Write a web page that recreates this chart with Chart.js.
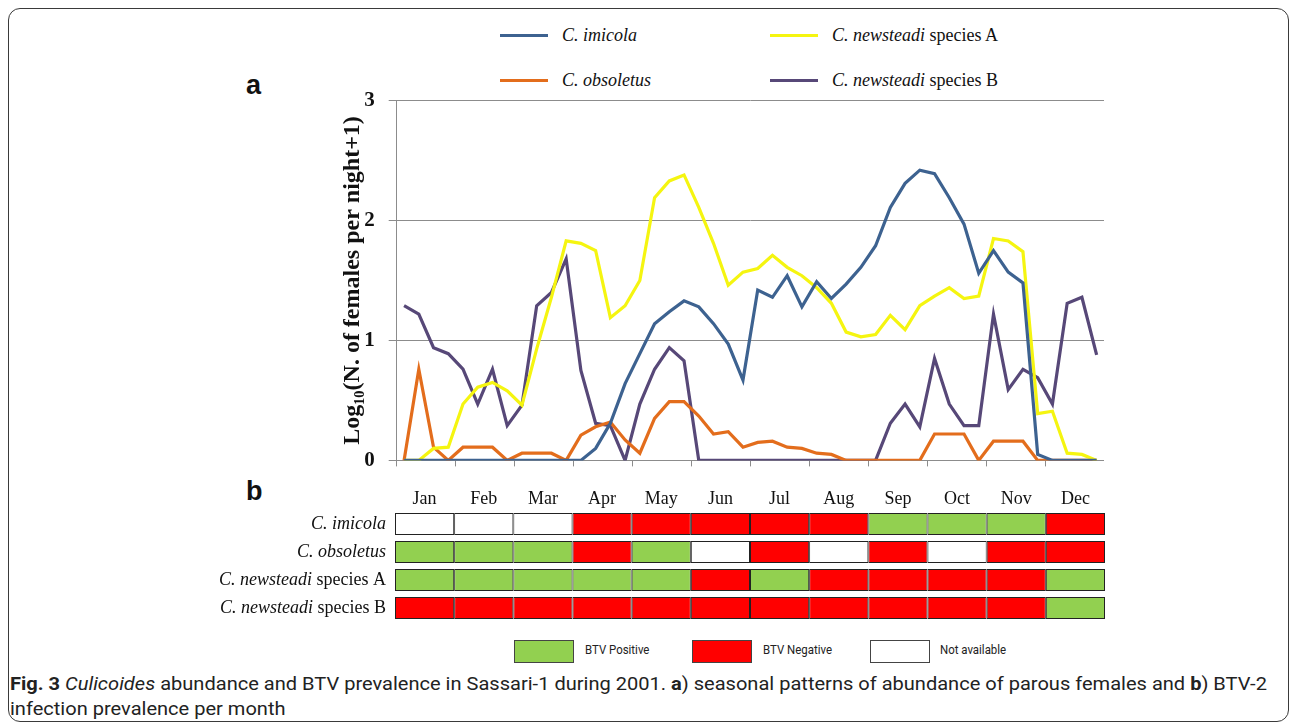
<!DOCTYPE html>
<html>
<head>
<meta charset="utf-8">
<script src="https://cdn.jsdelivr.net/npm/chart.js@4.4.1/dist/chart.umd.min.js"></script>
<style>
  body { margin: 0; width: 1290px; height: 726px; overflow: hidden; position: relative; background: #fff; font-family: "Liberation Serif", serif; color: #111; }
  #frame { position: absolute; left: 8px; top: 8px; width: 1279px; height: 712px; border: 1.5px solid #3a3a3a; border-radius: 12px; }
  .panel { position: absolute; font-family: "Liberation Sans", Arial, sans-serif; font-weight: bold; font-size: 27px; color: #111; }
  #lineWrap { position: absolute; left: 330px; top: 74px; width: 774px; height: 413px; }
  #tableWrap { position: absolute; left: 220px; top: 472px; width: 885px; height: 150px; }
  .leg { position: absolute; font-size: 18px; white-space: nowrap; line-height: 20px; }
  .leg i.sw { position: absolute; left: -62px; top: 9px; width: 48px; height: 3px; }
  .box { position: absolute; top: 640px; width: 58px; height: 21px; border: 1.5px solid #444; }
  .boxt { position: absolute; top: 642px; font-family: "Roboto", sans-serif; font-size: 13px; color: #222; transform: scaleX(0.88); transform-origin: left; white-space: nowrap; }
  #caption { position: absolute; left: 10px; top: 671px; width: 1275px; font-family: "Roboto", sans-serif; font-size: 19px; line-height: 25px; color: #222; white-space: nowrap; transform: scaleX(1.055); transform-origin: left; }
</style>
</head>
<body>
<div id="frame"></div>
<div class="panel" style="left:246px;top:70px;">a</div>
<div class="panel" style="left:246px;top:476px;">b</div>
<div id="legend"></div>
<div id="lineWrap"><canvas id="lineChart"></canvas></div>
<div id="tableWrap"><canvas id="tableChart"></canvas></div>
<div class="box" style="left:514px;background:#92d050;"></div>
<div class="boxt" style="left:585px;">BTV Positive</div>
<div class="box" style="left:692px;background:#ff0000;"></div>
<div class="boxt" style="left:763px;">BTV Negative</div>
<div class="box" style="left:870px;background:#fff;"></div>
<div class="boxt" style="left:940px;">Not available</div>
<div id="caption"><b>Fig. 3</b> <i>Culicoides</i> abundance and BTV prevalence in Sassari-1 during 2001. <b>a</b>) seasonal patterns of abundance of parous females and <b>b</b>) BTV-2<br>infection prevalence per month</div>
<script>
// months and weekly sampling points (4 per month)
const months = ['Jan', 'Feb', 'Mar', 'Apr', 'May', 'Jun', 'Jul', 'Aug', 'Sep', 'Oct', 'Nov', 'Dec'];
const weeks = [];
months.forEach(m => { for (let w = 1; w <= 4; w++) weeks.push(m + ' ' + w); });

// log10(N. of females per night + 1)
const imicola = [0, 0, 0, 0, 0, 0, 0, 0, 0, 0, 0, 0,
  0, 0.1, 0.31, 0.64, 0.89, 1.14, 1.24, 1.33, 1.28, 1.14, 0.97, 0.67,
  1.42, 1.36, 1.54, 1.28, 1.49, 1.35, 1.47, 1.61, 1.79, 2.11, 2.31, 2.42,
  2.39, 2.19, 1.97, 1.56, 1.75, 1.57, 1.48, 0.05, 0, 0, 0, 0];
const obsoletus = [0, 0.76, 0.11, 0, 0.11, 0.11, 0.11, 0, 0.06, 0.06, 0.06, 0,
  0.21, 0.28, 0.32, 0.17, 0.06, 0.35, 0.49, 0.49, 0.37, 0.22, 0.24, 0.11,
  0.15, 0.16, 0.11, 0.1, 0.06, 0.05, 0, 0, 0, 0, 0, 0,
  0.22, 0.22, 0.22, 0, 0.16, 0.16, 0.16, 0, 0, 0, 0, 0];
const newsteadiA = [0, 0, 0.1, 0.11, 0.47, 0.61, 0.65, 0.58, 0.46, 0.93, 1.36, 1.83,
  1.81, 1.75, 1.19, 1.29, 1.5, 2.19, 2.33, 2.38, 2.11, 1.81, 1.46, 1.57,
  1.6, 1.71, 1.61, 1.54, 1.44, 1.31, 1.07, 1.03, 1.05, 1.21, 1.09, 1.29,
  1.37, 1.44, 1.35, 1.37, 1.85, 1.83, 1.74, 0.39, 0.41, 0.06, 0.05, 0];
const newsteadiB = [1.29, 1.22, 0.94, 0.89, 0.76, 0.47, 0.76, 0.29, 0.46, 1.29, 1.4, 1.68,
  0.75, 0.31, 0.29, 0, 0.47, 0.76, 0.94, 0.83, 0, 0, 0, 0,
  0, 0, 0, 0, 0, 0, 0, 0, 0, 0.31, 0.47, 0.28,
  0.85, 0.47, 0.29, 0.29, 1.22, 0.59, 0.76, 0.69, 0.47, 1.31, 1.36, 0.88];

// BTV status per month: P positive, N negative, X not available
const species = ['C. imicola', 'C. obsoletus', 'C. newsteadi species A', 'C. newsteadi species B'];
const statusImicola    = ['X', 'X', 'X', 'N', 'N', 'N', 'N', 'N', 'P', 'P', 'P', 'N'];
const statusObsoletus  = ['P', 'P', 'P', 'N', 'P', 'X', 'N', 'X', 'N', 'X', 'N', 'N'];
const statusNewsteadiA = ['P', 'P', 'P', 'P', 'P', 'N', 'P', 'N', 'N', 'N', 'N', 'P'];
const statusNewsteadiB = ['N', 'N', 'N', 'N', 'N', 'N', 'N', 'N', 'N', 'N', 'N', 'P'];

const statusColors = { P: '#92d050', N: '#ff0000', X: '#ffffff' };
const axisGrey = '#8c8c8c';
const serif = '"Liberation Serif", "Times New Roman", serif';

const series = [
  { label: 'C. imicola', data: imicola, color: '#3d6290', x: 562, y: 25 },
  { label: 'C. newsteadi species A', data: newsteadiA, color: '#f5f510', x: 832, y: 25 },
  { label: 'C. obsoletus', data: obsoletus, color: '#e36d1c', x: 562, y: 70 },
  { label: 'C. newsteadi species B', data: newsteadiB, color: '#574878', x: 832, y: 70 }
];

// split "C. newsteadi species A" into italic + roman parts
function nameParts(name) {
  const k = name.indexOf(' species');
  return k < 0 ? [name, ''] : [name.slice(0, k), name.slice(k)];
}

// legend (2 x 2 like the figure)
const legendEl = document.getElementById('legend');
series.forEach(s => {
  const p = nameParts(s.label);
  const d = document.createElement('div');
  d.className = 'leg';
  d.style.left = s.x + 'px';
  d.style.top = s.y + 'px';
  d.innerHTML = '<i class="sw" style="background:' + s.color + '"></i><i>' + p[0] + '</i>' + p[1];
  legendEl.appendChild(d);
});

new Chart(document.getElementById('lineChart'), {
  type: 'line',
  data: {
    labels: weeks,
    datasets: series.map(s => ({
      label: s.label,
      data: s.data,
      borderColor: s.color,
      backgroundColor: s.color,
      borderWidth: 3.2,
      pointRadius: 0,
      tension: 0
    }))
  },
  options: {
    responsive: true,
    maintainAspectRatio: false,
    animation: false,
    layout: { padding: { top: 10, right: 0, bottom: 0, left: 0 } },
    plugins: { legend: { display: false }, tooltip: { enabled: false } },
    scales: {
      x: {
        type: 'category',
        offset: true,
        ticks: { display: false, autoSkip: false },
        grid: {
          offset: true,
          drawOnChartArea: false,
          tickLength: 6,
          tickColor: c => (c.index === undefined || c.index % 4 === 0) ? axisGrey : 'rgba(0,0,0,0)'
        },
        border: { color: axisGrey },
        afterFit: s => { s.height = 10; }
      },
      y: {
        min: 0,
        max: 3,
        ticks: { stepSize: 1, padding: 14, color: '#111', font: { family: serif, size: 21, weight: 'bold' } },
        grid: { color: axisGrey, tickLength: 8, tickColor: axisGrey },
        border: { color: axisGrey },
        title: {
          display: true,
          text: 'Log\u2081\u2080(N. of females per night+1)',
          color: '#111',
          font: { family: serif, size: 24, weight: 'bold' },
          padding: { top: 8, bottom: 0 }
        },
        afterFit: s => { s.width = 66.7; }
      }
    }
  }
});

// table of BTV status drawn as stacked horizontal bars, one dataset per month
const statusRows = [statusImicola, statusObsoletus, statusNewsteadiA, statusNewsteadiB];

const rowLabels = {
  id: 'rowLabels',
  afterDraw(chart) {
    const ctx = chart.ctx;
    const yScale = chart.scales.y;
    const right = chart.chartArea.left - 9;
    ctx.save();
    ctx.fillStyle = '#111';
    ctx.textBaseline = 'middle';
    species.forEach((name, i) => {
      const y = yScale.getPixelForTick(i);
      const p = nameParts(name);
      ctx.font = '18px ' + serif;
      const w2 = ctx.measureText(p[1]).width;
      ctx.textAlign = 'right';
      ctx.fillText(p[1], right, y);
      ctx.font = 'italic 18px ' + serif;
      ctx.fillText(p[0], right - w2, y);
    });
    ctx.restore();
  }
};

new Chart(document.getElementById('tableChart'), {
  type: 'bar',
  data: {
    labels: species,
    datasets: months.map((m, j) => ({
      label: m,
      data: species.map(() => 1),
      backgroundColor: statusRows.map(r => statusColors[r[j]]),
      borderColor: '#222',
      borderWidth: 1,
      borderSkipped: false,
      barPercentage: 0.79,
      categoryPercentage: 1
    }))
  },
  options: {
    indexAxis: 'y',
    responsive: true,
    maintainAspectRatio: false,
    animation: false,
    layout: { padding: 0 },
    plugins: { legend: { display: false }, tooltip: { enabled: false } },
    scales: {
      x: {
        type: 'linear',
        position: 'top',
        stacked: true,
        min: 0,
        max: 12,
        afterBuildTicks: s => { s.ticks = months.map((m, i) => ({ value: i + 0.5 })); },
        ticks: {
          autoSkip: false,
          padding: 0,
          color: '#111',
          font: { family: serif, size: 18 },
          callback: (v, i) => months[i]
        },
        grid: { display: false, drawTicks: false },
        border: { display: false },
        afterFit: s => { s.height = 38; }
      },
      y: {
        stacked: true,
        ticks: { display: false },
        grid: { display: false, drawTicks: false },
        border: { display: false },
        afterFit: s => { s.width = 175; }
      }
    }
  },
  plugins: [rowLabels]
});
</script>
</body>
</html>
